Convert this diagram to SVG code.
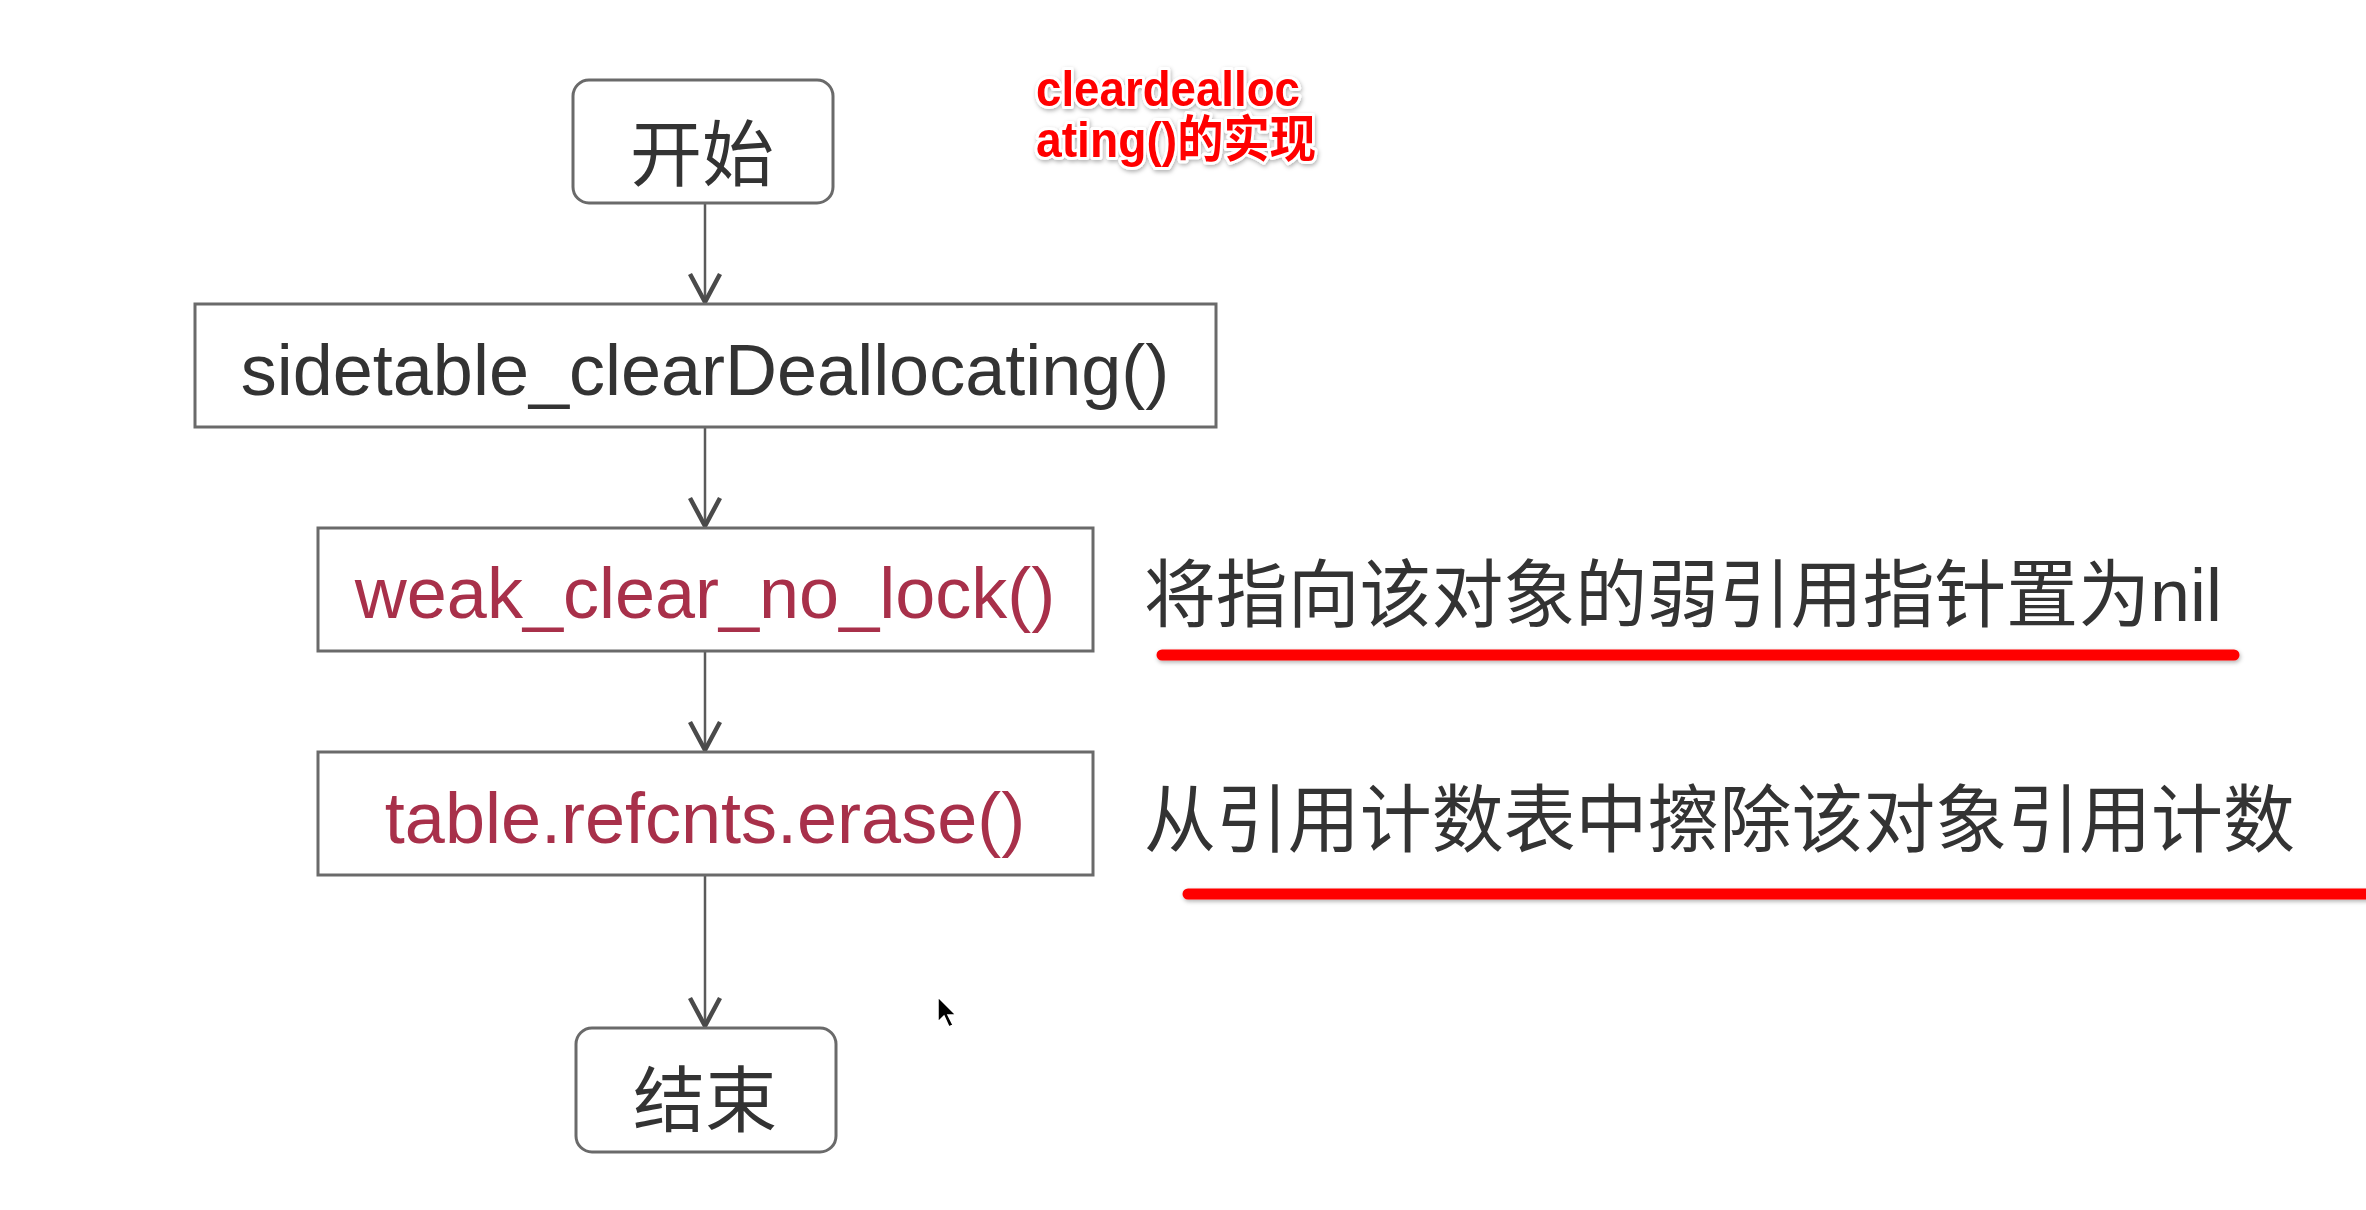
<svg xmlns="http://www.w3.org/2000/svg" width="2366" height="1210" viewBox="0 0 2366 1210">
<style>
.box{fill:#ffffff;stroke:#6a6a6a;stroke-width:3}
.lbl{font-family:"Liberation Sans","Noto Sans CJK SC",sans-serif;font-size:72px;text-anchor:middle}
.dark{fill:#333333}
.red{fill:#a8304a}
.cjk{font-family:"Noto Sans CJK SC","Liberation Sans",sans-serif;font-size:72px;fill:#333333;text-anchor:middle;dominant-baseline:central}
.note{font-family:"Liberation Sans","Noto Sans CJK SC",sans-serif;font-size:74px;fill:#333333;dominant-baseline:central}
.conn{stroke:#5a5a5a;stroke-width:2.5;fill:none}
.title{font-family:"Liberation Sans","Noto Sans CJK SC",sans-serif;font-size:50px;font-weight:bold;fill:#ff0000;stroke:#ffffff;stroke-width:6;stroke-linejoin:round;paint-order:stroke}
.uline{stroke:#ff0000;stroke-width:11;stroke-linecap:round}
</style>
<defs>
<marker id="arr" markerUnits="userSpaceOnUse" viewBox="-34 -20 40 40" refX="0" refY="0" markerWidth="40" markerHeight="40" orient="auto">
<path d="M-28,-15 L0,0 L-28,15" fill="none" stroke="#4a4a4a" stroke-width="4.5" stroke-linejoin="miter"/>
</marker>
<filter id="sh" x="-5%" y="-20%" width="110%" height="160%">
<feDropShadow dx="1" dy="2" stdDeviation="2" flood-color="#000000" flood-opacity="0.3"/>
</filter>
</defs>
<rect width="2366" height="1210" fill="#ffffff"/>

<g id="title" filter="url(#sh)">
<text class="title" x="1036" y="106" textLength="264" lengthAdjust="spacingAndGlyphs">cleardealloc</text>
<text class="title" x="1036" y="157" textLength="280" lengthAdjust="spacingAndGlyphs">ating()的实现</text>
</g>

<g id="connectors">
<line class="conn" x1="705" y1="203" x2="705" y2="302" marker-end="url(#arr)"/>
<line class="conn" x1="705" y1="427" x2="705" y2="526" marker-end="url(#arr)"/>
<line class="conn" x1="705" y1="651" x2="705" y2="750" marker-end="url(#arr)"/>
<line class="conn" x1="705" y1="875" x2="705" y2="1026" marker-end="url(#arr)"/>
</g>

<g id="start">
<rect class="box" x="573" y="80" width="260" height="123" rx="16"/>
<text class="cjk" x="702" y="148">开始</text>
</g>
<g id="sidetable">
<rect class="box" x="195" y="304" width="1021" height="123"/>
<text class="lbl dark" x="705" y="395">sidetable_clearDeallocating()</text>
</g>
<g id="weak_clear">
<rect class="box" x="318" y="528" width="775" height="123"/>
<text class="lbl red" x="705" y="618">weak_clear_no_lock()</text>
</g>
<g id="erase">
<rect class="box" x="318" y="752" width="775" height="123"/>
<text class="lbl red" x="705" y="843">table.refcnts.erase()</text>
</g>
<g id="end">
<rect class="box" x="576" y="1028" width="260" height="124" rx="16"/>
<text class="cjk" x="705" y="1094">结束</text>
</g>

<g id="notes">
<text class="note" x="1144" y="595" textLength="1078" lengthAdjust="spacingAndGlyphs">将指向该对象的弱引用指针置为nil</text>
<text class="note" x="1144" y="820" textLength="1151" lengthAdjust="spacingAndGlyphs">从引用计数表中擦除该对象引用计数</text>
<g filter="url(#sh)">
<line class="uline" x1="1162" y1="655" x2="2234" y2="655"/>
<line class="uline" x1="1188" y1="894" x2="2380" y2="894"/>
</g>
</g>

<g id="cursor">
<path d="M938,997 L938,1022 L944,1016 L949,1027 L953,1025 L948,1015 L956,1015 Z" fill="#000000" stroke="#ffffff" stroke-width="1.5"/>
</g>
</svg>
